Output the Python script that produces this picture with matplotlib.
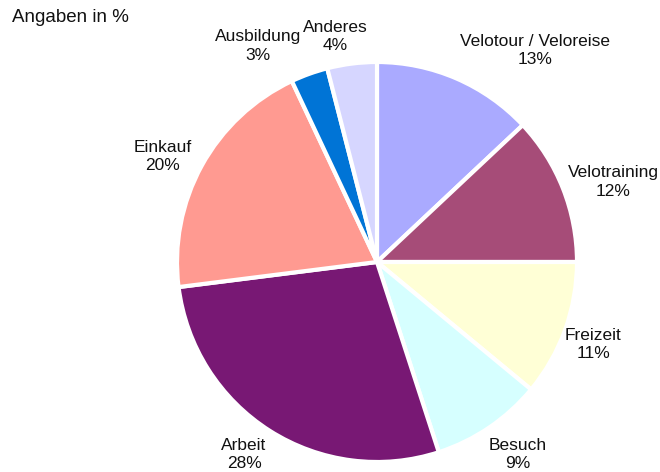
import matplotlib
matplotlib.use("Agg")
import matplotlib.pyplot as plt

categories = ["Velotour / Veloreise", "Velotraining", "Freizeit", "Besuch",
              "Arbeit", "Einkauf", "Ausbildung", "Anderes"]
values = [13, 12, 11, 9, 28, 20, 3, 4]
colors = ["#AAAAFF", "#A64C78", "#FFFFD6", "#D6FFFF",
          "#781874", "#FF9A91", "#0074D6", "#D6D6FF"]
# label anchor positions in pixel coordinates (x, y from top)
label_pos = [(535, 50), (613, 182), (593, 345), (518, 454),
             (244, 455), (163, 156), (258, 46), (335, 36)]

plt.rcParams['font.family'] = ['Liberation Sans', 'DejaVu Sans']

W, H = 660, 472
fig = plt.figure(figsize=(W / 100, H / 100), dpi=100)
ax = fig.add_axes([0, 0, 1, 1])

cx, cy, r = 377, H - 262, 200
ax.pie(values, colors=colors, startangle=90, counterclock=False,
       center=(cx, cy), radius=r, frame=True,
       wedgeprops=dict(edgecolor='white', linewidth=3))
ax.set_xlim(0, W)
ax.set_ylim(0, H)
ax.set_aspect('equal')
ax.axis('off')

for cat, v, (px, py) in zip(categories, values, label_pos):
    ax.text(px, H - py, f"{cat}\n{v}%", ha='center', va='center',
            fontsize=12.5, linespacing=1.25, color='#111111')

ax.text(12, H - 18, "Angaben in %", ha='left', va='center', fontsize=13.5,
        color='#111111')

fig.savefig("out.png", dpi=100)
